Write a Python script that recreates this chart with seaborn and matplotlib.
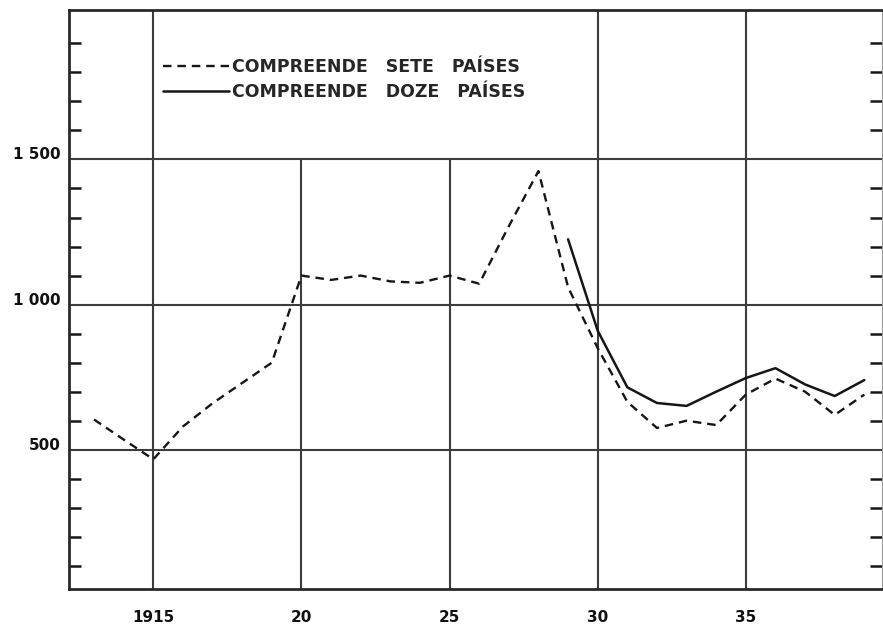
import matplotlib

matplotlib.use("Agg")

import matplotlib.pyplot as plt
import seaborn as sns
from matplotlib.ticker import FixedLocator

# Valores (índice, por ano)
sete_anos = list(range(1913, 1940))
sete_valores = [
    604, 535, 467, 580, 660, 730, 800,
    1100, 1085, 1100, 1080, 1075, 1100, 1072,
    1270, 1460, 1060, 850,
    665, 575, 600, 585, 690,
    745, 700, 620, 690,
]
doze_anos = list(range(1929, 1940))
doze_valores = [1225, 910, 715, 661, 651, 700, 747, 781, 725, 685, 740]

rotulos_legenda = ["COMPREENDE   SETE   PAÍSES", "COMPREENDE   DOZE   PAÍSES"]
anos_ticks = [1915, 1920, 1925, 1930, 1935]
rotulos_x = ["1915", "20", "25", "30", "35"]
valores_ticks = [500, 1000, 1500]
rotulos_y = ["500", "1 000", "1 500"]

COR_LINHA = "#161616"
COR_GRADE = "#3c3c3c"

sns.set_style("white")
plt.rcParams["font.family"] = ["DejaVu Sans"]

fig, ax = plt.subplots(figsize=(8.83, 6.24), dpi=100)
fig.subplots_adjust(left=0.078, right=0.999, bottom=0.056, top=0.984)

y0, y1 = 20, 2015
ax.set_xlim(1912.15, 1939.6)
ax.set_ylim(y0, y1)

# grade: horizontais inteiras, verticais 1920/1925 só abaixo de 1500
ax.grid(axis="y", which="major", color=COR_GRADE, lw=1.5)
ax.vlines([1915, 1930, 1935], y0, y1, color=COR_GRADE, lw=1.5, zorder=1)
ax.vlines([1920, 1925], y0, 1500, color=COR_GRADE, lw=1.5, zorder=1)

sns.lineplot(x=sete_anos, y=sete_valores, ax=ax, color=COR_LINHA, lw=1.7,
             linestyle=(0, (3.6, 2.5)), label=rotulos_legenda[0], zorder=3)
sns.lineplot(x=doze_anos, y=doze_valores, ax=ax, color=COR_LINHA, lw=1.8,
             label=rotulos_legenda[1], zorder=3)

ax.legend(loc="upper left", bbox_to_anchor=(0.1156, 0.917), frameon=False,
          prop={"weight": "bold", "size": 12.5}, handlelength=3.8,
          handletextpad=0.2, labelspacing=0.4, borderpad=0, borderaxespad=0)

ax.set_xticks(anos_ticks, labels=rotulos_x)
ax.set_yticks(valores_ticks, labels=rotulos_y)
ax.yaxis.set_minor_locator(FixedLocator([v for v in range(100, 2001, 100) if v % 500]))
ax.tick_params(axis="x", length=0, pad=15, labelsize=11, labelcolor="#111111")
ax.tick_params(axis="y", which="major", length=0, pad=6, labelsize=11, labelcolor="#111111")
ax.tick_params(axis="y", which="minor", direction="in", length=8.5, width=1.8,
               left=True, right=True, color=COR_LINHA)
for lab in ax.get_xticklabels() + ax.get_yticklabels():
    lab.set_fontweight("bold")
for lab in ax.get_yticklabels():
    lab.set_verticalalignment("baseline")

for lado in ["left", "bottom", "top"]:
    ax.spines[lado].set_linewidth(2.0)
    ax.spines[lado].set_color("#2a2a2a")
ax.spines["right"].set_linewidth(0.8)
ax.spines["right"].set_color("#999999")
ax.set_xlabel("")
ax.set_ylabel("")

fig.savefig("out.png", dpi=100)
